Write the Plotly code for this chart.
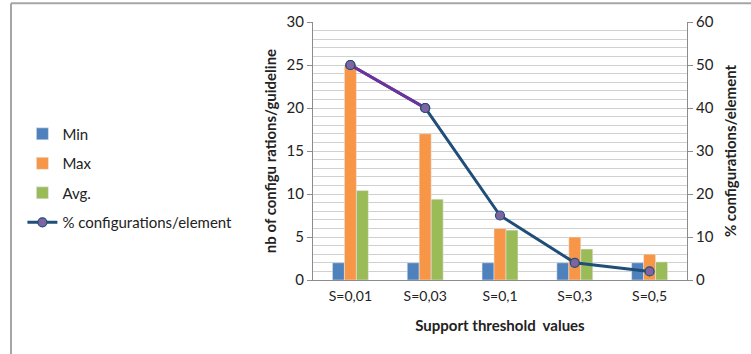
import plotly.graph_objects as go

categories = ["S=0,01", "S=0,03", "S=0,1", "S=0,3", "S=0,5"]
min_vals = [2, 2, 2, 2, 2]
max_vals = [25, 17, 6, 5, 3]
avg_vals = [10.4, 9.4, 5.8, 3.6, 2.1]
pct_vals = [50, 40, 15, 4, 2]

FONT = "Lato, 'Open Sans', sans-serif"
grid = "#D0D0D0"
axis_col = "#8C8C8C"

fig = go.Figure()

fig.add_trace(go.Bar(x=categories, y=min_vals, name="Min", marker_color="#4F81BD",
                     legendgroup="a"))
fig.add_trace(go.Bar(x=categories, y=max_vals, name="Max", marker_color="#F79646",
                     legendgroup="b"))
fig.add_trace(go.Bar(x=categories, y=avg_vals, name="Avg.", marker_color="#9BBB59",
                     legendgroup="c"))

# main line (dark blue) on the secondary axis
fig.add_trace(go.Scatter(x=categories, y=pct_vals, name="% configurations/element",
                         mode="lines+markers", yaxis="y2", legendgroup="d",
                         line=dict(color="#1F4E79", width=3),
                         marker=dict(size=9, color="#8064A2",
                                     line=dict(color="#1F4E79", width=1.2))))
# first segment is purple in the original
fig.add_trace(go.Scatter(x=categories[:2], y=pct_vals[:2], mode="lines+markers",
                         yaxis="y2", showlegend=False, hoverinfo="skip",
                         line=dict(color="#7030A0", width=3),
                         marker=dict(size=9, color="#8064A2",
                                     line=dict(color="#1F4E79", width=1.2))))

fig.update_layout(
    width=751, height=354,
    margin=dict(l=313, r=64, t=20, b=74),
    paper_bgcolor="white", plot_bgcolor="white",
    font=dict(family=FONT, size=14, color="#222222"),
    barmode="group", bargap=0.52, bargroupgap=0,
    showlegend=True,
    legend=dict(x=-0.777, y=0.395, xanchor="left", yanchor="middle",
                font=dict(size=15), tracegroupgap=7, bgcolor="rgba(0,0,0,0)"),
    xaxis=dict(showline=True, linecolor=axis_col, linewidth=1, ticks="",
               showgrid=False, tickfont=dict(size=14), ticklabelstandoff=3,
               title=dict(text="<b>Support threshold  values</b>", font=dict(size=15),
                          standoff=17)),
    yaxis=dict(range=[0, 30], dtick=5, showline=True, linecolor=axis_col, linewidth=1,
               ticks="outside", ticklen=5, tickcolor=axis_col,
               showgrid=True, gridcolor=grid, gridwidth=1,
               minor=dict(dtick=1, showgrid=True, gridcolor=grid, gridwidth=1),
               zeroline=False, tickfont=dict(size=15),
               title=dict(text="<b>nb of configu rations/guideline</b>",
                          font=dict(size=15), standoff=6)),
    yaxis2=dict(range=[0, 60], dtick=10, overlaying="y", side="right",
                showline=True, linecolor=axis_col, linewidth=1,
                ticks="outside", ticklen=5, tickcolor=axis_col,
                showgrid=False, zeroline=False, tickfont=dict(size=15),
                title=dict(text="<b>% configurations/element</b>",
                           font=dict(size=15), standoff=12)),
)

# chart frame (left and top edges visible in the original)
fig.add_shape(type="line", xref="paper", yref="paper", x0=-0.8075, x1=-0.8075,
              y0=-0.3, y1=1.073, line=dict(color="#A6A6A6", width=2))
fig.add_shape(type="line", xref="paper", yref="paper", x0=-0.8075, x1=1.2,
              y0=1.073, y1=1.073, line=dict(color="#A6A6A6", width=2))

fig.write_html("out.html", config={"displayModeBar": False},
               post_script="document.body.style.margin='0';")
